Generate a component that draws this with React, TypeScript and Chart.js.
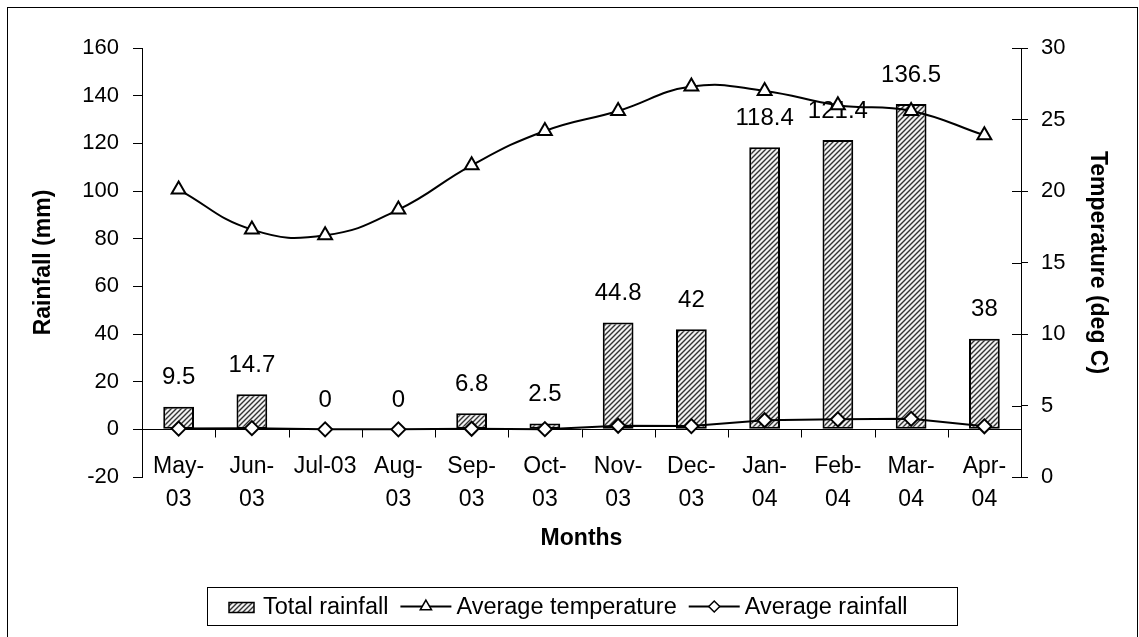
import { useEffect, useRef } from "react";
import { Chart, registerables } from "chart.js";
import { drawPoint } from "chart.js/helpers";

Chart.register(...registerables);

// Month labels as they wrap under the axis
const monthLines: string[][] = [
  ["May-", "03"], ["Jun-", "03"], ["Jul-03"], ["Aug-", "03"], ["Sep-", "03"], ["Oct-", "03"],
  ["Nov-", "03"], ["Dec-", "03"], ["Jan-", "04"], ["Feb-", "04"], ["Mar-", "04"], ["Apr-", "04"],
];
const totalRainfall = [9.5, 14.7, 0, 0, 6.8, 2.5, 44.8, 42, 118.4, 121.4, 136.5, 38];
const averageTemperature = [20.1, 17.3, 16.9, 18.7, 21.8, 24.2, 25.6, 27.3, 27.0, 26.0, 25.6, 23.9];
const averageRainfall = [0.31, 0.49, 0, 0, 0.23, 0.08, 1.49, 1.35, 3.82, 4.19, 4.4, 1.27];

const rainfallRange = [-20, 160, 20]; // min, max, step (mm)
const temperatureRange = [0, 30, 5]; // min, max, step (deg C)

const FONT = '"Liberation Sans", Arial, sans-serif';

function makeHatch(): CanvasPattern | string {
  const tile = document.createElement("canvas");
  tile.width = 5;
  tile.height = 5;
  const c = tile.getContext("2d");
  if (!c) return "#999";
  c.fillStyle = "#f2f2f2";
  c.fillRect(0, 0, 5, 5);
  c.strokeStyle = "#333";
  c.lineWidth = 1.4;
  c.beginPath();
  c.moveTo(-1, 6); c.lineTo(6, -1);
  c.moveTo(-1, 1); c.lineTo(1, -1);
  c.moveTo(4, 6); c.lineTo(6, 4);
  c.stroke();
  const p = c.createPattern(tile, "repeat");
  return p || "#999";
}

const decorations = {
  id: "decorations",
  beforeDatasetsDraw(chart: any) {
    const { ctx, chartArea, scales } = chart;
    const xs = scales.x, ys = scales.y, y1 = scales.y1;
    const zeroY = Math.round(ys.getPixelForValue(0)) + 0.5;
    ctx.save();
    ctx.strokeStyle = "#000";
    ctx.lineWidth = 1;
    ctx.beginPath();
    // horizontal axis along zero rainfall
    ctx.moveTo(chartArea.left, zeroY);
    ctx.lineTo(chartArea.right, zeroY);
    // category boundary tick marks
    for (let i = 1; i < monthLines.length; i++) {
      const bx = Math.round((xs.getPixelForValue(i - 1) + xs.getPixelForValue(i)) / 2) + 0.5;
      ctx.moveTo(bx, zeroY);
      ctx.lineTo(bx, zeroY + 8);
    }
    // inner half of the right axis ticks
    y1.ticks.forEach((t: any) => {
      const ty = Math.round(y1.getPixelForValue(t.value)) + 0.5;
      ctx.moveTo(chartArea.right - 9, ty);
      ctx.lineTo(chartArea.right, ty);
    });
    ctx.stroke();

    // month labels
    ctx.fillStyle = "#000";
    ctx.font = `23px ${FONT}`;
    ctx.textAlign = "center";
    ctx.textBaseline = "middle";
    monthLines.forEach((lines, i) => {
      const cx = xs.getPixelForValue(i);
      lines.forEach((ln, k) => ctx.fillText(ln, cx, zeroY + 37 + k * 33));
    });

    // horizontal axis title
    ctx.font = `bold 23px ${FONT}`;
    ctx.fillText("Months", (chartArea.left + chartArea.right) / 2, 539);

    // value labels above the bars
    const meta = chart.getDatasetMeta(0);
    ctx.font = `24px ${FONT}`;
    meta.data.forEach((bar: any, i: number) => {
      ctx.fillText(String(totalRainfall[i]), bar.x, bar.y - 29);
    });
    ctx.restore();
  },
  afterDraw(chart: any) {
    const { ctx } = chart;
    ctx.save();
    // outer frame
    ctx.strokeStyle = "#000";
    ctx.lineWidth = 1;
    ctx.strokeRect(7.5, 7.5, 1130, 700);

    // legend
    const ds = chart.data.datasets;
    ctx.font = `23.5px ${FONT}`;
    const names = ds.map((d: any) => d.label as string);
    const widths = names.map((n: string) => ctx.measureText(n).width);
    const swatchW = 25, lineKeyW = 51, gapKey = 9, gapLine = 5, gapItem = 12;
    const boxL = 207.5, boxT = 587.5, boxW = 750, boxH = 38;
    ctx.fillStyle = "#fff";
    ctx.fillRect(boxL, boxT, boxW, boxH);
    ctx.strokeRect(boxL, boxT, boxW, boxH);
    const cy = boxT + boxH / 2;
    let cx = 229;
    // bar key
    ctx.fillStyle = ds[0].backgroundColor;
    ctx.fillRect(cx, cy - 4, swatchW, 10);
    ctx.lineWidth = 1.5;
    ctx.strokeRect(cx, cy - 4, swatchW, 10);
    cx += swatchW + gapKey;
    ctx.fillStyle = "#000";
    ctx.textAlign = "left";
    ctx.textBaseline = "middle";
    ctx.fillText(names[0], cx, cy + 1);
    cx += widths[0] + gapItem;
    for (let k = 1; k <= 2; k++) {
      const d = ds[k];
      ctx.strokeStyle = "#000";
      ctx.lineWidth = 2;
      ctx.beginPath();
      ctx.moveTo(cx, cy);
      ctx.lineTo(cx + lineKeyW, cy);
      ctx.stroke();
      ctx.fillStyle = "#fff";
      ctx.strokeStyle = "#000";
      ctx.lineWidth = 1.5;
      drawPoint(ctx, { pointStyle: d.pointStyle, rotation: 0, borderWidth: 1.5, radius: d.pointRadius - 1.5 }, cx + lineKeyW / 2, cy);
      cx += lineKeyW + gapLine;
      ctx.fillStyle = "#000";
      ctx.fillText(names[k], cx, cy + 1);
      cx += widths[k] + gapItem;
    }
    ctx.restore();
  },
};

export default function App() {
  const canvasRef = useRef<HTMLCanvasElement | null>(null);

  useEffect(() => {
    const canvas = canvasRef.current;
    if (!canvas) return;
    const hatch = makeHatch();
    const chart = new Chart(canvas, {
      type: "bar",
      data: {
        labels: monthLines.map((l) => l.join("")),
        datasets: [
          {
            type: "bar",
            label: "Total rainfall",
            data: totalRainfall,
            yAxisID: "y",
            backgroundColor: hatch as any,
            borderColor: "#000",
            borderWidth: 2,
            borderSkipped: false,
            barPercentage: 0.42,
            categoryPercentage: 1,
            order: 3,
          },
          {
            type: "line",
            label: "Average temperature",
            data: averageTemperature,
            yAxisID: "y1",
            borderColor: "#000",
            borderWidth: 2,
            tension: 0.45,
            pointStyle: "triangle",
            pointRadius: 8,
            pointBorderWidth: 2,
            pointBackgroundColor: "#fff",
            pointBorderColor: "#000",
            order: 1,
          },
          {
            type: "line",
            label: "Average rainfall",
            data: averageRainfall,
            yAxisID: "y",
            borderColor: "#000",
            borderWidth: 2,
            tension: 0,
            pointStyle: "rectRot",
            pointRadius: 7,
            pointBorderWidth: 2,
            pointBackgroundColor: "#fff",
            pointBorderColor: "#000",
            order: 2,
          },
        ],
      },
      options: {
        animation: false,
        responsive: true,
        maintainAspectRatio: false,
        layout: { padding: { left: 8, right: 1, top: 48, bottom: 160 } },
        plugins: { legend: { display: false }, tooltip: { enabled: false } },
        scales: {
          x: { display: false, offset: true },
          y: {
            position: "left",
            min: rainfallRange[0],
            max: rainfallRange[1],
            ticks: { stepSize: rainfallRange[2], color: "#000", font: { family: FONT, size: 22 }, padding: 14 },
            grid: { drawOnChartArea: false, drawTicks: true, tickLength: 9, color: "#000" },
            border: { display: true, color: "#000", width: 1 },
            title: {
              display: true,
              text: "Rainfall (mm)",
              color: "#000",
              font: { family: FONT, size: 23, weight: "bold" },
              padding: { top: 22, bottom: 0 },
            },
            afterFit: (s: any) => { s.width = 134; },
          },
          y1: {
            position: "right",
            min: temperatureRange[0],
            max: temperatureRange[1],
            ticks: { stepSize: temperatureRange[2], color: "#000", font: { family: FONT, size: 22 }, padding: 13 },
            grid: { drawOnChartArea: false, drawTicks: true, tickLength: 7, color: "#000" },
            border: { display: true, color: "#000", width: 1 },
            title: {
              display: true,
              text: "Temperature (deg C)",
              color: "#000",
              font: { family: FONT, size: 23, weight: "bold" },
              padding: { top: 27, bottom: 0 },
            },
            afterFit: (s: any) => { s.width = 117; },
          },
        },
      },
      plugins: [decorations],
    });
    return () => chart.destroy();
  }, []);

  return (
    <div style={{ position: "absolute", left: 0, top: 0, width: 1139, height: 637, background: "#fff" }}>
      <canvas ref={canvasRef} style={{ display: "block" }} />
    </div>
  );
}
